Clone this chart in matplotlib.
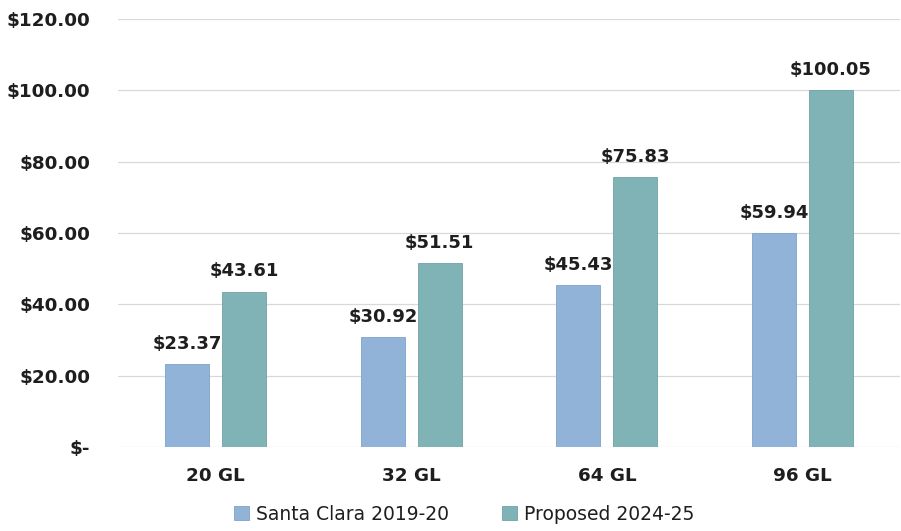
import matplotlib.pyplot as plt
import numpy as np

categories = ['20 GL', '32 GL', '64 GL', '96 GL']
santa_clara = [23.37, 30.92, 45.43, 59.94]
proposed = [43.61, 51.51, 75.83, 100.05]
yticks = [0, 20, 40, 60, 80, 100, 120]
ytick_labels = ['$-', '$20.00', '$40.00', '$60.00', '$80.00', '$100.00', '$120.00']

blue = '#91b3d7'
green = '#80b3b5'
text_color = '#1e1e1e'

plt.rcParams['font.family'] = ['DejaVu Sans']

fig = plt.figure(figsize=(9.01, 5.31), dpi=100)
ax = fig.add_axes([0.131, 0.158, 0.868, 0.806])

x = np.arange(len(categories))
w = 0.225
off = 0.145
b1 = ax.bar(x - off, santa_clara, w, color=blue, edgecolor='#7fa3c8', linewidth=0.6,
            label='Santa Clara 2019-20', zorder=3)
b2 = ax.bar(x + off, proposed, w, color=green, edgecolor='#6fa2a5', linewidth=0.6,
            label='Proposed 2024-25', zorder=3)

for bars, vals in ((b1, santa_clara), (b2, proposed)):
    for bar, v in zip(bars, vals):
        ax.annotate(f'${v:.2f}', (bar.get_x() + bar.get_width() / 2, v),
                    xytext=(0, 8), textcoords='offset points', ha='center', va='bottom',
                    fontsize=13, fontweight='bold', color=text_color)

ax.set_xlim(-0.5, 3.5)
ax.set_ylim(0, 120)
ax.set_yticks(yticks)
ax.set_yticklabels(ytick_labels)
ax.set_xticks(x)
ax.set_xticklabels(categories)
ax.tick_params(axis='y', length=0, labelsize=13.2, colors=text_color, pad=20)
ax.tick_params(axis='x', length=0, labelsize=13.2, colors=text_color, pad=14)
for lbl in ax.get_xticklabels() + ax.get_yticklabels():
    lbl.set_fontweight('bold')
ax.yaxis.grid(True, color='#d9d9d9', linewidth=0.9, zorder=0)
for s in ax.spines.values():
    s.set_visible(False)

fig.legend(handles=[b1, b2], loc='lower center', bbox_to_anchor=(0.515, -0.018), ncol=2,
           frameon=False, fontsize=13.5, handlelength=0.8, handleheight=0.8,
           columnspacing=2.8, handletextpad=0.4, labelcolor=text_color)

fig.savefig('out.png', dpi=100)
